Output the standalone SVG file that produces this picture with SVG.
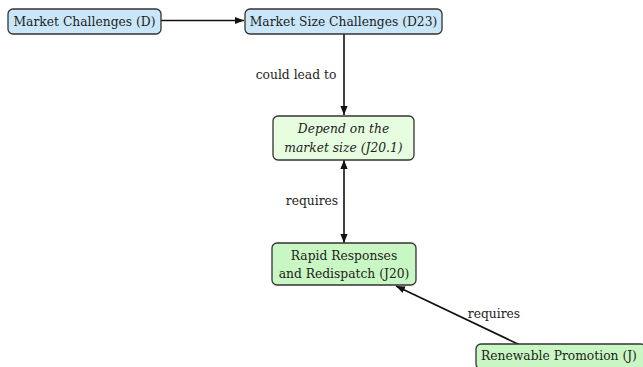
<svg xmlns="http://www.w3.org/2000/svg" width="643" height="367" viewBox="0 0 643 367">
<defs>
<marker id="ah" viewBox="0 0 10 10" refX="10" refY="5" markerWidth="9" markerHeight="9" orient="auto-start-reverse" markerUnits="userSpaceOnUse">
<path d="M0,1 L10,5 L0,9 z" fill="#111"/>
</marker>
<style>
.n rect{stroke:#333;stroke-width:1.3}
.blue rect{fill:#c9e7f8}
.pale rect{fill:#e6fde0}
.green rect{fill:#c9f7c3}
text{font-family:"DejaVu Serif","Liberation Serif",serif;font-size:12.3px;fill:#222}
.c{text-anchor:middle}
.e path{stroke:#111;stroke-width:1.6;fill:none}
</style>
</defs>
<rect width="643" height="367" fill="#fff"/>
<g id="connectors" class="e">
<path d="M161,20.5 L244,20.5" marker-end="url(#ah)"/>
<path d="M344,34 L344,115" marker-end="url(#ah)"/>
<path d="M344,160 L344,243" marker-start="url(#ah)" marker-end="url(#ah)"/>
<path d="M520,345 L396,286" marker-end="url(#ah)"/>
<text x="296" y="79" class="c">could lead to</text>
<text x="312" y="205" class="c">requires</text>
<text x="494" y="318" class="c">requires</text>
</g>
<g id="n1" class="n blue"><rect x="8" y="9" width="153" height="25" rx="5"/><text x="84.5" y="25.5" class="c">Market Challenges (D)</text></g>
<g id="n2" class="n blue"><rect x="245" y="9" width="197" height="25" rx="5"/><text x="343.5" y="25.5" class="c">Market Size Challenges (D23)</text></g>
<g id="n3" class="n pale"><rect x="273" y="116" width="141" height="44" rx="5"/><text x="343.5" y="133" class="c" font-style="italic">Depend on the</text><text x="343.5" y="152" class="c" font-style="italic">market size (J20.1)</text></g>
<g id="n4" class="n green"><rect x="272" y="243" width="144" height="42" rx="5"/><text x="344" y="260" class="c">Rapid Responses</text><text x="344" y="278" class="c">and Redispatch (J20)</text></g>
<g id="n5" class="n green"><rect x="476" y="344" width="170" height="25" rx="5"/><text x="559" y="360" class="c">Renewable Promotion (J)</text></g>
</svg>
